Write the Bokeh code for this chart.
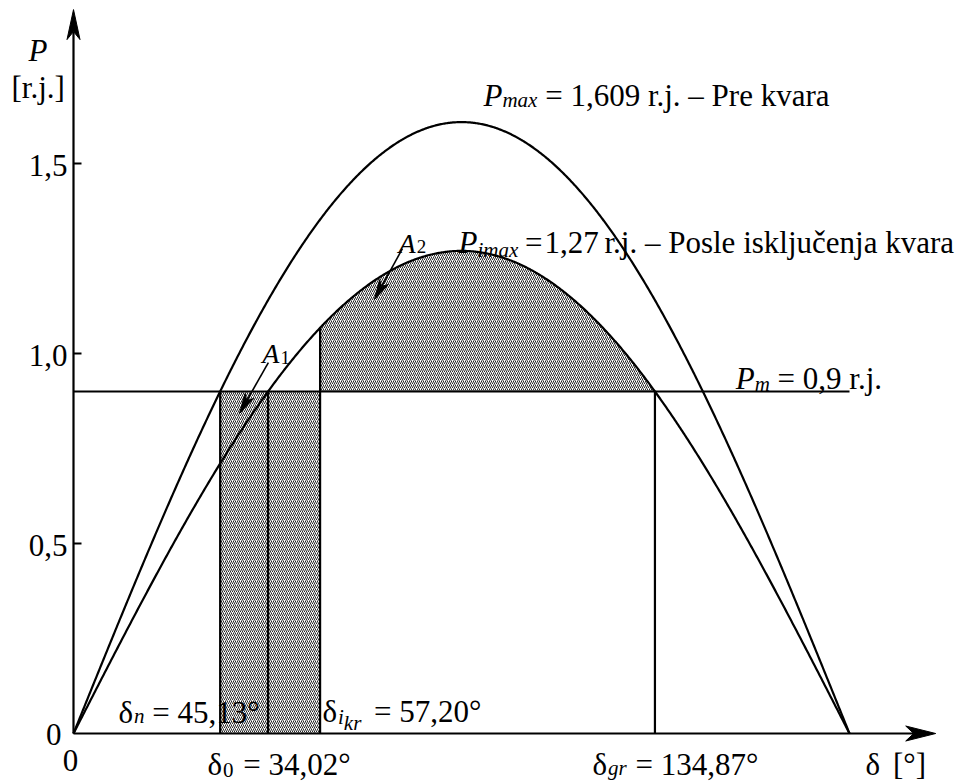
import numpy as np
from bokeh.plotting import figure
from bokeh.models import Range1d
from bokeh.core.properties import value
from bokeh.embed import file_html
from bokeh.resources import INLINE

# --- system quantities (r.j. and degrees) -----------------------------------
p_max_pre = 1.609      # amplitude before the fault
p_max_post = 1.27      # amplitude after the fault is cleared
p_m = 0.9              # mechanical input power
delta_0 = 34.02        # initial rotor angle
delta_n = 45.13        # new operating point
delta_ikr = 57.20      # critical clearing angle
delta_gr = 134.87      # limit angle
delta_end = 180.0

y_ticks = [0.5, 1.0, 1.5]
y_tick_labels = ["0,5", "1,0", "1,5"]

# power-angle characteristics P = Pmax * sin(delta)
delta = np.linspace(0.0, delta_end, 721)
p_pre = p_max_pre * np.sin(np.radians(delta))
p_post = p_max_post * np.sin(np.radians(delta))

# --- page geometry -----------------------------------------------------------
W, H = 957, 782
ORIGIN_PX = (73, 733)
PX_PER_DEG = 776.0 / 180.0
PX_PER_PU = 380.0
x_lo = -ORIGIN_PX[0] / PX_PER_DEG
x_hi = (W - ORIGIN_PX[0]) / PX_PER_DEG
y_lo = -(H - ORIGIN_PX[1]) / PX_PER_PU
y_hi = ORIGIN_PX[1] / PX_PER_PU
x_axis_tip = 200.0
y_axis_tip = 1.905

SERIF = "Liberation Serif"
INK = "black"
FS = 31      # main text size, px
FSUB = 21    # subscript size, px

p = figure(width=W, height=H, output_backend="svg", toolbar_location=None,
           x_range=Range1d(x_lo, x_hi), y_range=Range1d(y_lo, y_hi),
           x_axis_location=None, y_axis_location=None,
           min_border=0, min_border_left=0, min_border_right=0,
           min_border_top=0, min_border_bottom=0)
p.grid.visible = False
p.outline_line_color = None
p.background_fill_color = "white"
p.border_fill_color = "white"

HATCH = dict(fill_color="white", hatch_pattern="/", hatch_color=INK,
             hatch_weight=0.85, hatch_scale=4.0)

# area A1: accelerating area below Pm between delta_0 and delta_ikr
p.quad(left=[delta_0], right=[delta_ikr], bottom=[0.0], top=[p_m],
       line_color=None, **HATCH)

# area A2: decelerating area between post-fault curve and Pm
d2 = np.linspace(delta_ikr, delta_gr, 300)
p.varea(x=d2, y1=np.full_like(d2, p_m),
        y2=p_max_post * np.sin(np.radians(d2)), **HATCH)

# characteristics
p.line(delta, p_pre, line_color=INK, line_width=2.2)
p.line(delta, p_post, line_color=INK, line_width=2.2)
p.line([0.0, delta_end], [p_m, p_m], line_color=INK, line_width=2.2)

# vertical markers at characteristic angles
v_x = [delta_0, delta_n, delta_ikr, delta_gr]
v_top = [p_m, p_m, p_max_post * np.sin(np.radians(delta_ikr)), p_m]
p.segment(x0=v_x, y0=[0.0] * 4, x1=v_x, y1=v_top, line_color=INK, line_width=2.2)


def dart(tip_x, tip_y, from_x, from_y, length, half_w, notch):
    """Arrow-head polygon (sizes in px) pointing at tip, returned in data units."""
    tx, ty = tip_x * PX_PER_DEG, tip_y * PX_PER_PU
    fx, fy = from_x * PX_PER_DEG, from_y * PX_PER_PU
    dx, dy = tx - fx, ty - fy
    n = np.hypot(dx, dy)
    ux, uy = dx / n, dy / n
    nx, ny = -uy, ux
    bx, by = tx - ux * length, ty - uy * length
    pts = [(tx, ty), (bx + nx * half_w, by + ny * half_w),
           (tx - ux * notch, ty - uy * notch), (bx - nx * half_w, by - ny * half_w)]
    xs = [a / PX_PER_DEG for a, _ in pts]
    ys = [b / PX_PER_PU for _, b in pts]
    return xs, ys


# axes with arrow heads
hx, hy = dart(x_axis_tip, 0.0, 0.0, 0.0, 30, 7.5, 22)
p.line([0.0, hx[2]], [0.0, 0.0], line_color=INK, line_width=2.2)
p.patch(hx, hy, fill_color=INK, line_color=INK, line_width=1)
vx, vy = dart(0.0, y_axis_tip, 0.0, 0.0, 30, 6.5, 22)
p.line([0.0, 0.0], [0.0, vy[2]], line_color=INK, line_width=2.2)
p.patch(vx, vy, fill_color=INK, line_color=INK, line_width=1)

# y ticks (short marks to the right of the axis)
tick_len = 8.0 / PX_PER_DEG
p.segment(x0=[0.0] * 3, y0=y_ticks, x1=[tick_len] * 3, y1=y_ticks,
          line_color=INK, line_width=2.2)
p.text(x=[0.0] * 3, y=y_ticks, text=y_tick_labels, x_offset=-6, y_offset=2,
       text_align="right", text_baseline="middle", text_font=value(SERIF),
       text_font_size=f"{FS}px", text_color=INK)
p.text(x=[0.0], y=[0.0], text=["0"], x_offset=-12, y_offset=1,
       text_align="right", text_baseline="middle", text_font=value(SERIF),
       text_font_size=f"{FS}px", text_color=INK)
p.text(x=[0.0], y=[0.0], text=["0"], x_offset=-3, y_offset=27,
       text_align="center", text_baseline="middle", text_font=value(SERIF),
       text_font_size=f"{FS}px", text_color=INK)

# pointer arrows for the areas
for (sx, sy, tx, ty) in [(45.2, 0.976, 38.5, 0.842), (76.3, 1.276, 69.8, 1.142)]:
    ax, ay = dart(tx, ty, sx, sy, 20, 5, 15)
    p.line([sx, ax[2]], [sy, ay[2]], line_color=INK, line_width=1.6)
    p.patch(ax, ay, fill_color=INK, line_color=INK, line_width=1)

# --- text with subscripts built from separate runs --------------------------
REG = {' ': 250, '=': 564, ',': 250, '.': 250, '°': 400, '[': 333, ']': 333,
       '–': 500, 'δ': 500, 'r': 333, 'j': 278, 'P': 556, 'e': 444, 'k': 500,
       'v': 500, 'a': 444, 'o': 500, 's': 389, 'l': 278, 'i': 278, 'u': 500,
       'č': 444, 'n': 500}
for ch in "0123456789":
    REG[ch] = 500
ITA = {'P': 611, 'A': 611, 'm': 722, 'a': 500, 'x': 444, 'i': 278, 'k': 444,
       'r': 389, 'n': 500, 'g': 500}


def run_width(txt, size, italic):
    tbl = ITA if italic else REG
    return sum(tbl.get(c, 500) for c in txt) * size / 1000.0


def rich(x, y, runs):
    ox = 0.0
    for txt, size, italic, dy, gap in runs:
        # SVG drops leading blanks, so turn them into an explicit advance
        stripped = txt.lstrip(" ")
        ox += gap + (len(txt) - len(stripped)) * 0.25 * size
        p.text(x=[x], y=[y], text=[stripped], x_offset=ox, y_offset=dy,
               text_font=value(SERIF), text_font_size=f"{size}px",
               text_font_style="italic" if italic else "normal",
               text_align="left", text_baseline="alphabetic", text_color=INK)
        ox += run_width(stripped, size, italic)


rich(-10.44, 1.797, [("P", FS, True, 0, 0)])
rich(-14.38, 1.700, [("[r.j.]", FS, False, 0, 0)])

rich(95.1, 1.679, [("P", FS, True, 0, 0), ("max", FSUB, True, 5, 0),
                   (" = 1,609 r.j. – Pre kvara", FS, False, 0, 0)])
rich(89.3, 1.292, [("P", FS, True, 0, 0), ("imax", FSUB, True, 7, 0),
                   (" =", FS, False, 0, -1), ("1,27", FS, False, 0, 2),
                   (" r.j. – Posle isključenja kvara", FS, False, 0, -2)])
rich(153.6, 0.934, [("P", FS, True, 0, 0), ("m", FSUB, True, 5, 0),
                    (" = 0,9 r.j.", FS, False, 0, 0)])

rich(43.8, 1.0, [("A", 28, True, 0, 0), ("1", 19, False, 4, 1)])
rich(75.4, 1.289, [("A", 28, True, 0, 0), ("2", 19, False, 3, 1)])

rich(10.44, 0.055, [("δ", FS, False, 0, 0), ("n", FSUB, True, 3, 0),
                    (" = 45,13°", FS, False, 0, 0)])
rich(57.76, 0.058, [("δ", FS, False, 0, 0), ("i", FSUB, True, 6, 0),
                    ("kr", FSUB, True, 12, 0), (" = 57,20°", FS, False, 0, 5)])
rich(31.08, -0.082, [("δ", FS, False, 0, 0), ("0", FSUB, False, 5, 0),
                     (" = 34,02°", FS, False, 0, 2)])
rich(120.4, -0.082, [("δ", FS, False, 0, 0), ("gr", FSUB, True, 3, 0),
                     (" = 134,87°", FS, False, 0, 1)])
rich(183.7, -0.082, [("δ", FS, False, 0, 0), ("[°]", FS, False, 0, 12)])

open("out.html", "w").write(file_html(p, INLINE))
